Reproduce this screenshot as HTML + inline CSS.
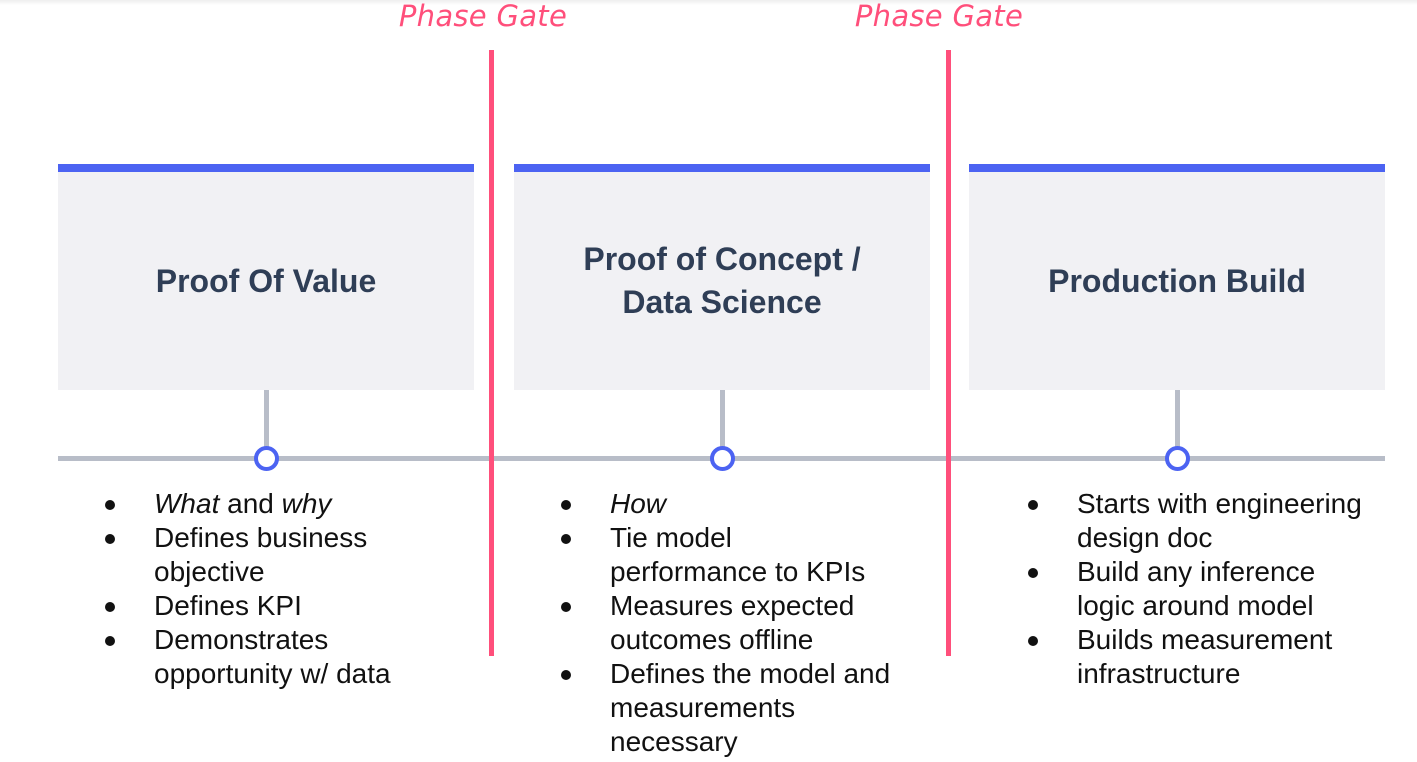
<!DOCTYPE html>
<html><head><style>
body{margin:0;width:1417px;height:762px;background:#fff;position:relative;overflow:hidden;font-family:"Liberation Sans",sans-serif}
.a{position:absolute}
.pg{position:absolute;top:-1px;font-size:29px;font-style:italic;color:#ff4f7b;font-family:"DejaVu Sans","Liberation Sans",sans-serif;font-weight:300;width:240px;text-align:center;letter-spacing:0.3px}
.red{position:absolute;top:50px;width:5px;height:606px;background:#ff4f7b}
.box{position:absolute;top:164px;width:416px;height:226px;background:#f1f1f4;border-top:8px solid #4c63f2;box-sizing:border-box;display:flex;align-items:center;justify-content:center;text-align:center;font-weight:bold;font-size:32px;color:#2f3e56;line-height:43px}
.stem{position:absolute;top:390px;width:5px;height:60px;background:#b8bdc8}
.dot{position:absolute;top:446px;width:17px;height:17px;border:4px solid #4c63f2;border-radius:50%;background:#fff}
ul{position:absolute;top:487px;margin:0;padding:0;list-style:none;font-size:28px;line-height:34px;color:#111}
li{position:relative;padding-left:49px;white-space:nowrap}
li:before{content:"";position:absolute;left:0;top:13px;width:10px;height:10px;border-radius:50%;background:#111}
</style></head><body>
<div class="a" style="left:0;top:0;width:1417px;height:5px;background:linear-gradient(#eee,#fff)"></div>
<div class="pg" style="left:363px">Phase Gate</div>
<div class="pg" style="left:819px">Phase Gate</div>
<div class="a" style="left:58px;top:456px;width:1327px;height:5px;background:#b8bdc8"></div>
<div class="box" style="left:58px">Proof Of Value</div>
<div class="box" style="left:514px">Proof of Concept /<br>Data Science</div>
<div class="box" style="left:969px">Production Build</div>
<div class="stem" style="left:264px"></div>
<div class="stem" style="left:720px"></div>
<div class="stem" style="left:1175px"></div>
<div class="dot" style="left:254px"></div>
<div class="dot" style="left:710px"></div>
<div class="dot" style="left:1165px"></div>
<div class="red" style="left:489px"></div>
<div class="red" style="left:946px"></div>
<ul style="left:105px"><li><i>What</i> and <i>why</i></li><li>Defines business<br>objective</li><li>Defines KPI</li><li>Demonstrates<br>opportunity w/ data</li></ul>
<ul style="left:561px"><li><i>How</i></li><li>Tie model<br>performance to KPIs</li><li>Measures expected<br>outcomes offline</li><li>Defines the model and<br>measurements<br>necessary</li></ul>
<ul style="left:1028px"><li>Starts with engineering<br>design doc</li><li>Build any inference<br>logic around model</li><li>Builds measurement<br>infrastructure</li></ul>
</body></html>
